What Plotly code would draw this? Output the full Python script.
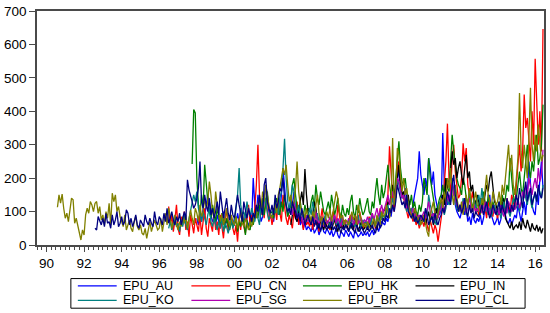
import plotly.graph_objects as go

# ---------------- data (monthly, all series end 2016:06) ----------------
END_YEAR, END_MONTH = 2016, 6

# EPU_AU from 1998:01
epu_au = [
    80, 60, 100, 70, 110, 90, 120, 150, 130, 90, 70, 80,
    60, 90, 70, 50, 80, 100, 60, 75, 55, 90, 70, 60,
    80, 65, 95, 70, 110, 85, 60, 90, 75, 55, 80, 70,
    200, 120, 90, 150, 110, 70, 85, 130, 180, 140, 100, 80,
    90, 70, 110, 95, 130, 100, 150, 230, 170, 120, 90, 100,
    140, 120, 160, 90, 70, 85, 60, 75, 50, 65, 45, 55,
    50, 40, 60, 35, 45, 55, 30, 45, 60, 40, 35, 50,
    40, 30, 45, 25, 35, 50, 30, 20, 40, 35, 25, 45,
    35, 25, 40, 30, 20, 45, 35, 25, 30, 40, 28, 35,
    30, 40, 25, 35, 45, 30, 50, 60, 40, 55, 70, 65,
    60, 80, 70, 100, 85, 120, 110, 150, 200, 230, 170, 140,
    150, 170, 130, 110, 90, 100, 120, 150, 180, 200, 280, 210,
    180, 150, 200, 170, 260, 230, 180, 220, 150, 120, 100, 90,
    110, 335, 180, 140, 120, 150, 130, 200, 160, 120, 100, 90,
    80, 100, 120, 90, 110, 70, 85, 60, 95, 75, 65, 80,
    70, 90, 60, 80, 110, 95, 120, 150, 90, 75, 60, 70,
    85, 60, 75, 100, 130, 90, 70, 65, 80, 60, 75, 90,
    80, 120, 95, 70, 100, 130, 90, 150, 250, 180, 120, 100,
    90, 150, 120, 200, 250, 170,
]

# EPU_CN from 1996:07
epu_cn = [
    115, 60, 90, 40, 75, 120,
    50, 30, 85, 60, 100, 45, 70, 25, 90, 55, 35, 80,
    60, 40, 90, 30, 70, 110, 50, 25, 80, 60, 40, 100,
    45, 70, 30, 90, 60, 20, 75, 110, 40, 65, 85, 50,
    30, 60, 10, 80, 45, 95, 55, 35, 70, 120, 60, 90,
    70, 110, 180, 300, 150, 90, 120, 80, 140, 100, 70, 95,
    60, 85, 110, 75, 130, 95, 70, 150, 110, 80, 60, 90,
    70, 50, 100, 80, 130, 60, 90, 75, 45, 85, 60, 70,
    55, 80, 45, 90, 60, 70, 40, 85, 110, 65, 50, 75,
    60, 45, 80, 100, 70, 55, 120, 85, 60, 50, 75, 65,
    50, 70, 90, 60, 45, 80, 55, 65, 100, 75, 50, 60,
    70, 55, 85, 60, 95, 70, 50, 80, 65, 110, 90, 75,
    80, 120, 150, 295, 200, 140, 100, 160, 230, 250, 190, 150,
    140, 120, 100, 80, 110, 90, 70, 85, 60, 75, 50, 65,
    70, 55, 90, 60, 40, 75, 50, 35, 60, 45, 10, 55,
    80, 120, 180, 250, 363, 200, 150, 260, 300, 220, 180, 140,
    150, 200, 304, 250, 290, 180, 150, 130, 160, 120, 100, 110,
    90, 120, 100, 140, 110, 80, 130, 95, 110, 85, 120, 100,
    80, 110, 95, 130, 100, 90, 140, 120, 100, 150, 130, 110,
    180, 250, 300, 220, 280, 450, 350, 380, 300, 250, 400, 300,
    557, 390, 300, 400, 280, 646,
]

# EPU_HK from 1997:10
epu_hk = [
    242, 405, 395,
    200, 120, 90, 150, 110, 240, 180, 130, 100, 80, 120, 90,
    70, 110, 85, 60, 95, 75, 50, 80, 65, 45, 70, 55,
    60, 85, 40, 70, 55, 95, 65, 30, 75, 50, 45, 80,
    60, 90, 110, 80, 120, 100, 140, 90, 130, 160, 110, 95,
    100, 80, 120, 140, 110, 90, 130, 100, 150, 120, 85, 100,
    120, 180, 200, 150, 110, 90, 130, 100, 85, 120, 95, 110,
    100, 130, 150, 110, 180, 140, 120, 160, 130, 100, 90, 110,
    130, 100, 150, 120, 90, 110, 140, 100, 80, 120, 95, 85,
    110, 90, 130, 150, 100, 80, 120, 95, 140, 110, 90, 100,
    120, 140, 100, 90, 130, 110, 160, 200, 150, 120, 180, 140,
    160, 200, 240, 180, 150, 170, 140, 200, 250, 310, 230, 190,
    180, 200, 160, 140, 120, 150, 110, 130, 100, 90, 120, 100,
    130, 200, 180, 150, 260, 200, 170, 140, 110, 100, 120, 140,
    150, 180, 140, 200, 170, 160, 250, 330, 280, 240, 200, 180,
    170, 150, 200, 180, 140, 120, 160, 130, 110, 140, 120, 100,
    120, 140, 110, 160, 130, 100, 150, 120, 95, 130, 110, 100,
    110, 130, 100, 150, 120, 140, 180, 160, 260, 200, 150, 130,
    140, 180, 220, 170, 150, 200, 260, 300, 230, 200, 250, 220,
    280, 330, 240, 260, 300, 420,
]

# EPU_IN from 2003:01
epu_in = [
    60, 90, 120, 80, 70, 100, 130, 160, 120, 227, 150, 100,
    80, 60, 90, 130, 110, 70, 50, 80, 60, 45, 70, 55,
    50, 70, 45, 60, 80, 55, 40, 65, 50, 75, 45, 60,
    55, 40, 70, 50, 45, 90, 60, 40, 55, 70, 45, 50,
    60, 45, 70, 55, 50, 80, 60, 45, 70, 90, 75, 100,
    110, 90, 130, 120, 150, 180, 160, 140, 200, 240, 180, 150,
    160, 130, 110, 150, 100, 90, 80, 110, 70, 90, 65, 80,
    70, 90, 60, 80, 100, 70, 90, 60, 75, 110, 85, 120,
    130, 150, 120, 200, 170, 190, 220, 280, 240, 260, 200, 230,
    250, 210, 180, 230, 270, 200, 220, 160, 180, 140, 120, 150,
    130, 110, 140, 120, 150, 180, 160, 200, 220, 170, 130, 120,
    100, 90, 120, 110, 140, 80, 70, 60, 50, 70, 45, 55,
    60, 50, 70, 45, 80, 60, 50, 75, 55, 40, 65, 50,
    45, 60, 40, 55, 35, 50,
]

# EPU_KO from 1996:07
epu_ko = [
    50, 70, 45, 60, 80, 55,
    65, 40, 75, 55, 90, 60, 45, 80, 100, 120, 150, 130,
    160, 110, 90, 70, 100, 80, 60, 90, 110, 70, 55, 80,
    60, 45, 70, 50, 85, 40, 65, 55, 35, 60, 75, 50,
    70, 110, 150, 230, 120, 90, 100, 80, 130, 100, 85, 110,
    90, 70, 100, 80, 60, 120, 85, 150, 130, 95, 75, 90,
    85, 110, 95, 120, 90, 140, 160, 230, 318, 200, 130, 100,
    140, 180, 160, 110, 90, 120, 85, 100, 75, 90, 70, 80,
    110, 90, 130, 100, 80, 95, 70, 85, 60, 75, 90, 65,
    70, 55, 80, 65, 90, 60, 75, 50, 85, 60, 70, 55,
    60, 75, 50, 85, 65, 55, 70, 90, 60, 50, 75, 65,
    70, 55, 80, 60, 90, 70, 55, 85, 65, 100, 75, 90,
    80, 100, 120, 90, 110, 140, 120, 150, 200, 180, 160, 140,
    150, 120, 100, 130, 90, 110, 80, 95, 70, 85, 60, 75,
    90, 70, 110, 80, 150, 120, 100, 85, 70, 60, 95, 130,
    100, 120, 90, 110, 140, 120, 130, 180, 160, 130, 110, 100,
    120, 100, 140, 110, 90, 130, 150, 120, 100, 140, 110, 130,
    150, 120, 170, 130, 100, 120, 90, 110, 85, 100, 120, 95,
    90, 110, 80, 100, 130, 95, 120, 100, 85, 110, 140, 120,
    110, 130, 100, 120, 150, 170, 140, 120, 160, 130, 110, 140,
    150, 130, 170, 160, 140, 180,
]

# EPU_SG from 2003:01
epu_sg = [
    110, 90, 130, 100, 80, 95, 70, 85, 60, 75, 90, 70,
    80, 65, 90, 70, 100, 75, 60, 85, 70, 55, 80, 65,
    70, 85, 60, 75, 90, 65, 80, 70, 55, 85, 60, 75,
    65, 80, 70, 90, 60, 75, 85, 65, 70, 80, 60, 75,
    70, 85, 65, 80, 95, 75, 90, 110, 85, 100, 120, 95,
    110, 130, 150, 120, 140, 160, 130, 170, 200, 190, 160, 140,
    150, 130, 110, 120, 100, 90, 110, 85, 95, 80, 90, 75,
    90, 100, 80, 110, 130, 100, 85, 95, 75, 90, 80, 100,
    110, 130, 100, 120, 150, 130, 160, 180, 150, 140, 120, 110,
    120, 100, 130, 110, 95, 120, 140, 110, 100, 120, 95, 110,
    100, 120, 95, 110, 130, 100, 115, 90, 105, 120, 95, 100,
    110, 90, 120, 100, 85, 110, 95, 130, 115, 100, 120, 105,
    120, 140, 110, 130, 160, 140, 180, 150, 200, 170, 150, 180,
    200, 170, 230, 190, 210, 285,
]

# EPU_BR from 1990:08
epu_br = [
    113, 150, 125, 152, 110,
    80, 95, 70, 105, 140, 135, 65, 80, 55, 35, 15, 45,
    30, 90, 110, 95, 130, 120, 100, 125, 130, 95, 115, 75,
    90, 60, 100, 80, 125, 60, 155, 130, 150, 100, 115, 85,
    70, 55, 90, 45, 60, 75, 50, 40, 70, 85, 55, 45,
    60, 35, 30, 50, 20, 45, 70, 40, 55, 75, 60, 45,
    50, 80, 40, 65, 95, 60, 110, 85, 50, 70, 90, 60,
    45, 70, 55, 85, 65, 90, 50, 75, 105, 80, 60, 110,
    95, 70, 120, 85, 100, 140, 110, 130, 190, 150, 100, 80,
    160, 120, 90, 70, 95, 60, 80, 110, 75, 55, 90, 70,
    60, 85, 50, 75, 100, 65, 55, 80, 60, 45, 70, 55,
    70, 95, 80, 120, 140, 110, 160, 130, 180, 150, 110, 90,
    80, 100, 120, 95, 150, 170, 200, 230, 210, 240, 180, 130,
    150, 110, 130, 170, 250, 160, 120, 90, 100, 80, 110, 75,
    90, 70, 100, 80, 120, 150, 95, 70, 85, 60, 75, 100,
    80, 110, 70, 95, 130, 160, 140, 100, 80, 90, 60, 75,
    70, 60, 85, 100, 75, 90, 60, 120, 95, 70, 55, 65,
    50, 70, 60, 45, 65, 80, 55, 90, 70, 60, 100, 85,
    90, 120, 100, 80, 110, 320, 120, 150, 290, 270, 210, 160,
    200, 150, 170, 120, 100, 90, 80, 110, 95, 70, 85, 60,
    70, 90, 60, 40, 25, 85, 110, 130, 90, 75, 95, 120,
    140, 110, 160, 130, 200, 170, 230, 150, 120, 180, 140, 110,
    100, 130, 90, 120, 150, 110, 170, 140, 100, 130, 160, 120,
    110, 90, 140, 120, 170, 210, 150, 130, 110, 160, 140, 120,
    130, 160, 120, 180, 150, 200, 250, 300, 220, 270, 180, 150,
    200, 260, 455, 280, 230, 300, 250, 200, 320, 470, 300, 250,
    330, 280, 360, 300, 250, 270,
]

# EPU_CL from 1992:08
epu_cl = [
    50, 45, 85, 70, 60,
    80, 55, 95, 65, 70, 50, 90, 60, 75, 100, 55, 65,
    85, 60, 70, 105, 95, 60, 80, 55, 70, 90, 60, 50,
    75, 65, 55, 90, 70, 60, 80, 65, 55, 100, 70, 60,
    85, 75, 60, 95, 70, 110, 65, 80, 100, 75, 60, 85,
    70, 95, 60, 80, 100, 75, 195, 165, 150, 130, 110, 120,
    140, 170, 250, 130, 110, 150, 120, 100, 140, 90, 110, 80,
    100, 130, 90, 160, 120, 80, 110, 140, 95, 75, 120, 90,
    80, 110, 150, 120, 90, 70, 130, 100, 80, 110, 90, 70,
    95, 80, 120, 100, 150, 110, 90, 180, 200, 130, 110, 95,
    120, 90, 150, 110, 130, 170, 160, 200, 140, 120, 100, 110,
    90, 130, 110, 100, 80, 95, 70, 110, 85, 60, 75, 90,
    70, 60, 85, 55, 75, 50, 65, 40, 60, 80, 55, 45,
    60, 50, 70, 45, 55, 40, 65, 50, 35, 55, 45, 60,
    50, 40, 55, 65, 45, 35, 60, 50, 40, 55, 45, 35,
    45, 55, 40, 50, 60, 45, 35, 55, 70, 50, 60, 80,
    70, 90, 80, 110, 95, 120, 100, 130, 180, 160, 140, 120,
    130, 110, 150, 100, 90, 80, 95, 70, 85, 65, 75, 90,
    80, 70, 110, 90, 60, 75, 85, 65, 95, 70, 60, 80,
    90, 110, 95, 130, 160, 140, 120, 180, 210, 150, 130, 100,
    120, 95, 110, 140, 100, 85, 120, 95, 110, 80, 100, 90,
    85, 100, 120, 90, 110, 130, 100, 80, 95, 120, 105, 90,
    110, 130, 95, 120, 100, 90, 140, 110, 95, 120, 100, 130,
    150, 120, 170, 140, 110, 160, 190, 130, 150, 170, 120, 140,
    160, 130, 180, 150, 140, 170,
]

series_names = ["EPU_AU", "EPU_CN", "EPU_HK", "EPU_IN",
                "EPU_KO", "EPU_SG", "EPU_BR", "EPU_CL"]
series_values = [epu_au, epu_cn, epu_hk, epu_in,
                 epu_ko, epu_sg, epu_br, epu_cl]
series_colors = ["#0000FF", "#FF0000", "#008000", "#000000",
                 "#008080", "#B000B0", "#808000", "#000080"]

x_tick_years = list(range(1990, 2017, 2))
x_tick_labels = [f"{y % 100:02d}" for y in x_tick_years]
y_tick_values = list(range(0, 701, 100))


def month_positions(n):
    end = END_YEAR + (END_MONTH - 1) / 12
    return [end - (n - 1 - i) / 12 for i in range(n)]


# ---------------- figure ----------------
W, H = 550, 313
ML, MR, MT, MB = 37, 4, 8, 68
PW, PH = W - ML - MR, H - MT - MB

fig = go.Figure()
for name, vals, col in zip(series_names, series_values, series_colors):
    fig.add_trace(go.Scatter(
        x=month_positions(len(vals)), y=vals, name=name, mode="lines",
        line=dict(color=col, width=1.3), showlegend=False))

FONT = "Liberation Sans, Arial, sans-serif"
AXCOL = "#4a4a4a"

fig.update_layout(
    width=W, height=H,
    margin=dict(l=ML, r=MR, t=MT, b=MB),
    paper_bgcolor="white", plot_bgcolor="white",
    font=dict(family=FONT, size=13.5, color="black"),
    xaxis=dict(range=[1989.496, 2016.47], tickmode="array",
               tickvals=x_tick_years, ticktext=x_tick_labels,
               ticks="outside", ticklen=5, tickcolor=AXCOL,
               minor=dict(tickmode="linear", tick0=1990, dtick=0.25,
                          ticks="outside", ticklen=3, tickcolor=AXCOL),
               showgrid=False, zeroline=False,
               showline=True, linecolor=AXCOL, linewidth=1.5, mirror=True,
               tickfont=dict(size=13.5, family=FONT, color="black")),
    yaxis=dict(range=[0, 700], tickmode="array", tickvals=y_tick_values,
               ticks="outside", ticklen=6, tickcolor=AXCOL,
               showgrid=False, zeroline=False,
               showline=True, linecolor=AXCOL, linewidth=1.5, mirror=True,
               tickfont=dict(size=13.5, family=FONT, color="black")),
)


def px_x(px):
    return (px - ML) / PW


def px_y(py):
    return (MT + PH - py) / PH


# manual legend box (4 columns x 2 rows, like the original)
shapes = [dict(type="rect", xref="paper", yref="paper",
               x0=px_x(71), x1=px_x(527), y0=px_y(309), y1=px_y(279),
               line=dict(color="black", width=1), fillcolor="white")]
annotations = []
col_line_x = [78, 192, 304, 417]
row_y = [286.5, 301]
for i, (name, col) in enumerate(zip(series_names, series_colors)):
    r, c = divmod(i, 4)
    lx = col_line_x[c]
    ly = row_y[r]
    shapes.append(dict(type="line", xref="paper", yref="paper",
                       x0=px_x(lx), x1=px_x(lx + 39), y0=px_y(ly), y1=px_y(ly),
                       line=dict(color=col, width=1.3)))
    annotations.append(dict(xref="paper", yref="paper", x=px_x(lx + 44), y=px_y(ly),
                            text=name, showarrow=False, xanchor="left", yanchor="middle",
                            borderpad=0,
                            font=dict(size=12.5, family=FONT, color="black")))
fig.update_layout(shapes=shapes, annotations=annotations)

fig.write_html("out.html", config={"displayModeBar": False},
               post_script="document.body.style.margin='0';")
